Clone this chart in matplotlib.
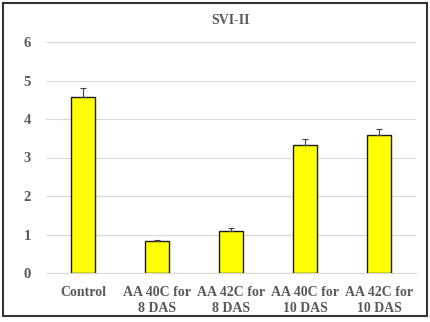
import matplotlib.pyplot as plt
from matplotlib.patches import Rectangle
import numpy as np


CATEGORIES = ["Control", "AA 40C for\n8 DAS", "AA 42C for\n8 DAS", "AA 40C for\n10 DAS", "AA 42C for\n10 DAS"]
VALUES = [4.58, 0.83, 1.10, 3.33, 3.58]
ERRORS = [0.22, 0.03, 0.06, 0.15, 0.17]
TITLE = "SVI-II"
Y_TICKS = [0, 1, 2, 3, 4, 5, 6]

TEXT_COLOR = "#595959"

plt.rcParams["font.family"] = ["Liberation Serif", "DejaVu Serif"]

fig = plt.figure(figsize=(4.31, 3.22), dpi=100)
ax = fig.add_axes([46 / 431, 1 - 273 / 322, 370 / 431, 231 / 322])

x = np.arange(len(CATEGORIES))
ax.bar(x, VALUES, width=0.32, color="#FFFF00", edgecolor="#1a1a1a", linewidth=1.0, zorder=3)
ax.errorbar(
    x, VALUES,
    yerr=[np.zeros(len(ERRORS)), ERRORS],
    fmt="none", ecolor="#404040", elinewidth=0.8, capsize=2.5, capthick=0.8, zorder=4,
)

ax.set_xlim(-0.5, len(CATEGORIES) - 0.5)
ax.set_ylim(0, 6)
ax.set_yticks(Y_TICKS)
ax.set_xticks(x)
ax.set_xticklabels(CATEGORIES, fontsize=10, fontweight="bold", color=TEXT_COLOR, linespacing=1.3)
ax.tick_params(axis="y", labelsize=10.5, labelcolor=TEXT_COLOR, length=0, pad=11)
ax.tick_params(axis="x", length=0, pad=9)
for label in ax.get_yticklabels():
    label.set_fontweight("bold")

ax.grid(axis="y", color="#d9d9d9", linewidth=0.8, zorder=0)
for side in ["top", "right", "left"]:
    ax.spines[side].set_visible(False)
ax.spines["bottom"].set_color("#d9d9d9")
ax.spines["bottom"].set_linewidth(0.8)

fig.text(0.5 * (46 + 416) / 431, 1 - 20 / 322, TITLE, ha="center", va="center",
         fontsize=10, fontweight="bold", color=TEXT_COLOR)

fig.patches.append(Rectangle((3 / 431, 1 - 316 / 322), 424 / 431, 313 / 322,
                             transform=fig.transFigure, fill=False,
                             edgecolor="#333333", linewidth=1.5))

fig.savefig("out.png", dpi=100)
